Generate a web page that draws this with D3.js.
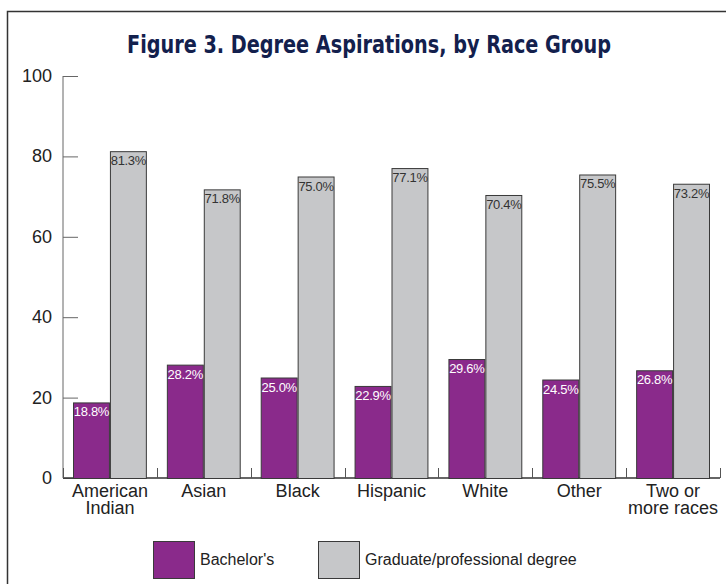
<!doctype html>
<html lang="en">
<head>
<meta charset="utf-8">
<title>Degree Aspirations</title>
<script src="https://cdn.jsdelivr.net/npm/d3@7"></script>
<style>
  body { margin: 0; background: #fff; }
  svg text { font-family: "Liberation Sans", Arial, sans-serif; }
</style>
</head>
<body>
<svg id="chart" width="726" height="584"></svg>
<script>
// data
var groups = ["American Indian", "Asian", "Black", "Hispanic", "White", "Other", "Two or more races"];
var groupLines = [["American", "Indian"], ["Asian"], ["Black"], ["Hispanic"], ["White"], ["Other"], ["Two or", "more races"]];
var bachelors = [18.8, 28.2, 25.0, 22.9, 29.6, 24.5, 26.8];
var graduate = [81.3, 71.8, 75.0, 77.1, 70.4, 75.5, 73.2];
var seriesNames = ["Bachelor's", "Graduate/professional degree"];
var yTicks = [0, 20, 40, 60, 80, 100];

var colors = ["#8a2a8b", "#c6c7c9"];
var labelColors = ["#ffffff", "#333333"];

var margin = {top: 76, left: 63, right: 6, bottom: 106},
    width = 726 - margin.left - margin.right,
    height = 584 - margin.top - margin.bottom;

var svg = d3.select("#chart");

// frame (only top and left edges show)
svg.append("path")
  .attr("d", "M7.5,584 V11.5 H726")
  .attr("fill", "none").attr("stroke", "#333").attr("stroke-width", 1.5);

svg.append("text")
  .attr("x", 369).attr("y", 53)
  .attr("text-anchor", "middle")
  .attr("textLength", 484).attr("lengthAdjust", "spacingAndGlyphs")
  .style("font-family", "'DejaVu Sans Condensed', 'Liberation Sans Narrow', sans-serif")
  .style("font-weight", "bold")
  .style("font-size", "24px")
  .attr("fill", "#13204d")
  .text("Figure 3. Degree Aspirations, by Race Group");

var g = svg.append("g").attr("transform", "translate(" + margin.left + "," + margin.top + ")");

var x0 = d3.scaleBand().domain(groups).range([0, width]).paddingInner(0).paddingOuter(0);
var x1 = d3.scaleBand().domain([0, 1]).range([10, x0.bandwidth() - 10]);
var y = d3.scaleLinear().domain([0, 100]).range([height, 0]);

// y axis
var yAxis = d3.axisRight(y).tickValues(yTicks).tickSize(15).tickFormat("");
var ya = g.append("g").call(yAxis);
ya.select(".domain").attr("stroke", "#666").attr("d", "M0," + y(100) + "V" + height);
ya.selectAll(".tick line").attr("stroke", "#666");

g.append("g").selectAll("text").data(yTicks).enter().append("text")
  .attr("x", -11).attr("y", function(d){ return y(d) + 6; })
  .attr("text-anchor", "end")
  .style("font-size", "18px").attr("fill", "#222")
  .text(function(d){ return d; });

// x axis baseline with small ticks between groups
g.append("line").attr("x1", 0).attr("x2", width).attr("y1", height).attr("y2", height)
  .attr("stroke", "#333").attr("stroke-width", 1.5);
g.append("g").selectAll("line").data(groups.concat(["end"])).enter().append("line")
  .attr("x1", function(d, i){ return Math.round(i * x0.bandwidth()) + 0.5; })
  .attr("x2", function(d, i){ return Math.round(i * x0.bandwidth()) + 0.5; })
  .attr("y1", height - 10).attr("y2", height)
  .attr("stroke", "#555");

var rows = groups.map(function(name, i){
  return {name: name, lines: groupLines[i], vals: [bachelors[i], graduate[i]]};
});

var grp = g.selectAll(".grp").data(rows).enter().append("g")
  .attr("class", "grp")
  .attr("transform", function(d){ return "translate(" + x0(d.name) + ",0)"; });

grp.selectAll("rect").data(function(d){ return d.vals; }).enter().append("rect")
  .attr("x", function(d, i){ return x1(i) + 0.5; })
  .attr("y", function(d){ return y(d) + 0.5; })
  .attr("width", x1.bandwidth() - 1)
  .attr("height", function(d){ return height - y(d); })
  .attr("fill", function(d, i){ return colors[i]; })
  .attr("stroke", "#3a3a3a").attr("stroke-width", 1);

grp.selectAll(".val").data(function(d){ return d.vals; }).enter().append("text")
  .attr("class", "val")
  .attr("x", function(d, i){ return x1(i) + x1.bandwidth() / 2; })
  .attr("y", function(d){ return y(d) + 14; })
  .attr("text-anchor", "middle")
  .style("font-size", "13px")
  .style("letter-spacing", "-0.3px")
  .attr("fill", function(d, i){ return labelColors[i]; })
  .text(function(d){ return d.toFixed(1) + "%"; });

grp.each(function(d){
  var t = d3.select(this).append("text")
    .attr("x", x0.bandwidth() / 2).attr("y", height + 19)
    .attr("text-anchor", "middle")
    .style("font-size", "18px").attr("fill", "#222");
  d.lines.forEach(function(l, k){
    t.append("tspan").attr("x", x0.bandwidth() / 2).attr("dy", k ? 17 : 0).text(l);
  });
});

// legend
var legendX = [153, 318];
var leg = svg.append("g").selectAll("g").data(seriesNames).enter().append("g")
  .attr("transform", function(d, i){ return "translate(" + legendX[i] + ",541)"; });
leg.append("rect").attr("x", 0.5).attr("y", 0.5).attr("width", 41).attr("height", 37)
  .attr("fill", function(d, i){ return colors[i]; })
  .attr("stroke", "#3a3a3a");
leg.append("text").attr("x", 47).attr("y", 24)
  .style("font-size", "16px").attr("fill", "#222")
  .text(function(d){ return d; });
</script>
</body>
</html>
